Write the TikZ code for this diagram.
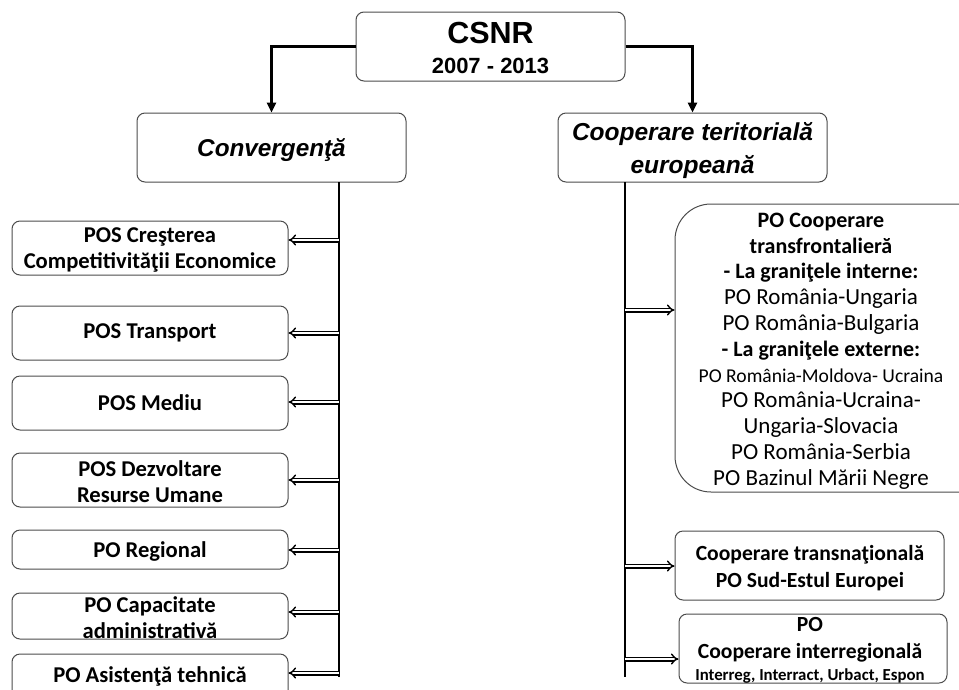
\documentclass[tikz,border=0pt]{standalone}
\usepackage{fontspec}
\setmainfont{Carlito}
\newfontfamily\narrowf{Liberation Sans}
\usetikzlibrary{arrows.meta}
\begin{document}
\begin{tikzpicture}[x=1pt,y=-1pt,
  box/.style={draw=black!70, line width=1pt, rounded corners=8pt, fill=white, inner sep=0pt},
  topbox/.style={box, minimum width=269pt, minimum height=69pt},
  leftbox/.style={box, minimum width=276pt},
  txt/.style={align=center, inner sep=0pt, font=\bfseries\fontsize{22.6}{26}\selectfont},
  toparrow/.style={line width=2.4pt, -{Triangle[length=10pt,width=9pt]}},
  trunk/.style={line width=2.5pt},
  dbl/.style={double, double distance=2.2pt, line width=1.4pt, -{Implies[scale=1.5]}}
]
\useasboundingbox (0,0) rectangle (959,689);
\clip (0,0) rectangle (959,689);

% top level
\node[topbox] (csnr) at (490.5,46.5) {};
\node[txt, font=\narrowf\bfseries\fontsize{30.5}{30}\selectfont] (csnrt) at (490.5,33) {CSNR};
\node[txt, font=\narrowf\bfseries\fontsize{22}{22}\selectfont] (csnry) at (490.5,66) {2007 - 2013};

\node[topbox] (conv) at (271.5,147.5) {};
\node[txt, font=\narrowf\bfseries\itshape\fontsize{24.3}{24}\selectfont] (convt) at (271.5,150) {Convergenţă};

\node[topbox] (ctr) at (692.5,147.5) {};
\node[txt, font=\narrowf\bfseries\itshape\fontsize{24.5}{33}\selectfont] (ctrt) at (692.5,151) {Cooperare teritorială\\europeană};

\draw[toparrow] (csnr.west) -| (conv.north);
\draw[toparrow] (csnr.east) -| (ctr.north);

% trunks
\coordinate (lt) at (339,182);
\coordinate (lb) at (339,677);
\coordinate (rt) at (625,182);
\coordinate (rb) at (625,677);
\draw[trunk] (lt) -- (lb);
\draw[trunk] (rt) -- (rb);

% left boxes
\node[leftbox, minimum height=54pt] (b1) at (150,248) {};
\node[txt] (b1t) at (150,250) {POS Creşterea\\Competitivităţii Economice};
\node[leftbox, minimum height=54pt] (b2) at (150,333) {};
\node[txt] (b2t) at (150,333) {POS Transport};
\node[leftbox, minimum height=54pt] (b3) at (150,403) {};
\node[txt] (b3t) at (150,403) {POS Mediu};
\node[leftbox, minimum height=54pt] (b4) at (150,480) {};
\node[txt] (b4t) at (150,482) {POS Dezvoltare\\Resurse Umane};
\node[leftbox, minimum height=39pt] (b5) at (150,549.5) {};
\node[txt] (b5t) at (150,551) {PO Regional};
\node[leftbox, minimum height=46pt] (b6) at (150,616) {};
\node[txt] (b6t) at (150,618) {PO Capacitate\\administrativă};
\node[leftbox, minimum height=60pt] (b7) at (150,684) {};
\node[txt] (b7t) at (150,676) {PO Asistenţă tehnică};

\coordinate (l1) at (339,240);
\coordinate (l2) at (339,333);
\coordinate (l3) at (339,402);
\coordinate (l4) at (339,480);
\coordinate (l5) at (339,550);
\coordinate (l6) at (339,612);
\coordinate (l7) at (339,673);
\foreach \i in {1,...,7} \draw[dbl] (l\i) -- (l\i -| b\i.east);

% right boxes
\node[box, rounded corners=36pt, minimum width=320pt, minimum height=288pt] (big) at (835,348) {};
\node[txt, font=\fontsize{23}{25.8}\selectfont] (bigt) at (821,351) {{\fontsize{22}{25.8}\selectfont\bfseries PO Cooperare}\\{\fontsize{22}{25.8}\selectfont\bfseries transfrontalieră}\\{\fontsize{22}{25.8}\selectfont\bfseries - La graniţele interne:}\\PO România-Ungaria\\PO România-Bulgaria\\{\fontsize{22}{25.8}\selectfont\bfseries - La graniţele externe:}\\{\fontsize{19.6}{25.8}\selectfont PO România-Moldova- Ucraina}\\PO România-Ucraina-\\Ungaria-Slovacia\\PO România-Serbia\\PO Bazinul Mării Negre};

\node[box, minimum width=269pt, minimum height=69pt] (tn) at (809.5,565.5) {};
\node[txt, font=\bfseries\fontsize{21.6}{27}\selectfont] (tnt) at (810,568) {Cooperare transnaţională\\PO Sud-Estul Europei};

\node[box, minimum width=268pt, minimum height=69pt] (ir) at (813,648.5) {};
\node[txt, font=\bfseries\fontsize{21.6}{27}\selectfont] (irt) at (810,640) {PO\\Cooperare interregională};
\node[txt, font=\bfseries\fontsize{16.8}{17}\selectfont] (irs) at (810,676) {Interreg, Interract, Urbact, Espon};

\coordinate (r1) at (625,310);
\coordinate (r2) at (625,566);
\coordinate (r3) at (625,659);
\draw[dbl] (r1) -- (r1 -| big.west);
\draw[dbl] (r2) -- (r2 -| tn.west);
\draw[dbl] (r3) -- (r3 -| ir.west);
\end{tikzpicture}
\end{document}
